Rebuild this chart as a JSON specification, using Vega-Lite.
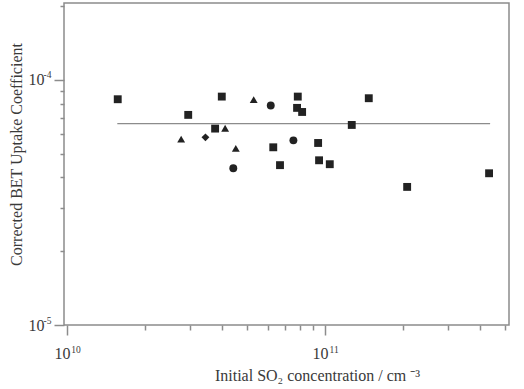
{
  "$schema": "https://vega.github.io/schema/vega-lite/v6.json",
  "width": 445,
  "height": 322,
  "autosize": {"type": "none"},
  "padding": {"left": 64, "top": 3, "right": 15, "bottom": 64},
  "background": "white",
  "config": {
    "view": {"stroke": "#8c8c8c", "strokeWidth": 1.5},
    "axis": {
      "labelFont": "Liberation Serif",
      "titleFont": "Liberation Serif",
      "labelColor": "#3a3a3a",
      "titleColor": "#3a3a3a",
      "titleFontWeight": "normal",
      "tickColor": "#8c8c8c",
      "tickWidth": 1.5,
      "domain": false,
      "grid": false,
      "labelOverlap": false,
      "labelFlush": false
    }
  },
  "resolve": {"axis": {"x": "independent", "y": "independent"}},
  "layer": [
    {
      "data": {"values": [
        {"conc": 1.567e10, "gamma": 6.63e-5},
        {"conc": 4.36e11, "gamma": 6.63e-5}
      ]},
      "mark": {"type": "line", "color": "#8c8c8c", "strokeWidth": 1.3},
      "encoding": {
        "x": {
          "field": "conc",
          "type": "quantitative",
          "scale": {"type": "log", "domain": [9.74e9, 5.16e11], "nice": false},
          "axis": {
            "orient": "bottom",
            "values": [1e10, 1e11],
            "labelExpr": "datum.value == 1e10 ? '10' : (datum.value == 1e11 ? '11' : '')",
            "ticks": false,
            "tickSize": 0,
            "labelFontSize": 9.5,
            "labelPadding": 19,
            "labelOffset": 8.5,
            "title": null
          }
        },
        "y": {
          "field": "gamma",
          "type": "quantitative",
          "scale": {"type": "log", "domain": [1e-5, 2.06e-4], "nice": false},
          "axis": {
            "orient": "left",
            "values": [1e-5, 1e-4],
            "labelExpr": "datum.value == 1e-4 ? '-4' : (datum.value == 1e-5 ? '-5' : '')",
            "ticks": false,
            "tickSize": 0,
            "labelFontSize": 9.5,
            "labelPadding": 13,
            "labelOffset": -5,
            "title": null
          }
        }
      }
    },
    {
      "data": {"values": [
        {"conc": 1.573e10, "gamma": 8.34e-5, "type": "square"},
        {"conc": 3.98e10, "gamma": 8.55e-5, "type": "square"},
        {"conc": 2.95e10, "gamma": 7.20e-5, "type": "square"},
        {"conc": 3.75e10, "gamma": 6.33e-5, "type": "square"},
        {"conc": 7.84e10, "gamma": 8.55e-5, "type": "square"},
        {"conc": 7.79e10, "gamma": 7.69e-5, "type": "square"},
        {"conc": 8.15e10, "gamma": 7.40e-5, "type": "square"},
        {"conc": 6.30e10, "gamma": 5.31e-5, "type": "square"},
        {"conc": 6.69e10, "gamma": 4.49e-5, "type": "square"},
        {"conc": 9.40e10, "gamma": 5.53e-5, "type": "square"},
        {"conc": 9.48e10, "gamma": 4.70e-5, "type": "square"},
        {"conc": 1.043e11, "gamma": 4.53e-5, "type": "square"},
        {"conc": 1.269e11, "gamma": 6.55e-5, "type": "square"},
        {"conc": 1.477e11, "gamma": 8.42e-5, "type": "square"},
        {"conc": 2.08e11, "gamma": 3.66e-5, "type": "square"},
        {"conc": 4.32e11, "gamma": 4.16e-5, "type": "square"},
        {"conc": 5.29e10, "gamma": 8.31e-5, "type": "triangle"},
        {"conc": 2.77e10, "gamma": 5.73e-5, "type": "triangle"},
        {"conc": 4.10e10, "gamma": 6.35e-5, "type": "triangle"},
        {"conc": 4.51e10, "gamma": 5.26e-5, "type": "triangle"},
        {"conc": 6.16e10, "gamma": 7.86e-5, "type": "circle"},
        {"conc": 7.54e10, "gamma": 5.67e-5, "type": "circle"},
        {"conc": 4.41e10, "gamma": 4.36e-5, "type": "circle"},
        {"conc": 3.44e10, "gamma": 5.83e-5, "type": "diamond"}
      ]},
      "mark": {"type": "point", "filled": true, "opacity": 1, "color": "#222222", "size": 62},
      "encoding": {
        "x": {
          "field": "conc",
          "type": "quantitative",
          "scale": {"type": "log", "domain": [9.74e9, 5.16e11], "nice": false},
          "axis": {
            "orient": "bottom",
            "values": [1e10, 2e10, 3e10, 4e10, 5e10, 6e10, 7e10, 8e10, 9e10, 1e11, 2e11, 3e11, 4e11, 5e11],
            "labelExpr": "datum.value == 1e10 || datum.value == 1e11 ? '10' : ''",
            "tickSize": {"condition": {"test": "datum.value == 1e10 || datum.value == 1e11", "value": 10}, "value": 5},
            "labelFontSize": 16,
            "labelPadding": 10,
            "labelOffset": -5,
            "title": "Initial SO₂ concentration / cm ⁻³",
            "titleFontSize": 16,
            "titlePadding": 6,
            "titleX": 253
          }
        },
        "y": {
          "field": "gamma",
          "type": "quantitative",
          "scale": {"type": "log", "domain": [1e-5, 2.06e-4], "nice": false},
          "axis": {
            "orient": "left",
            "values": [1e-5, 2e-5, 3e-5, 4e-5, 5e-5, 6e-5, 7e-5, 8e-5, 9e-5, 1e-4, 2e-4],
            "labelExpr": "datum.value == 1e-4 || datum.value == 1e-5 ? '10' : ''",
            "tickSize": {"condition": {"test": "datum.value == 1e-4 || datum.value == 1e-5", "value": 10}, "value": 4},
            "labelFontSize": 16,
            "labelPadding": 10,
            "title": "Corrected BET Uptake Coefficient",
            "titleFontSize": 16,
            "titlePadding": 4,
            "titleY": 151
          }
        },
        "shape": {
          "field": "type",
          "type": "nominal",
          "scale": {"domain": ["square", "triangle", "circle", "diamond"], "range": ["square", "triangle-up", "circle", "diamond"]},
          "legend": null
        }
      }
    }
  ]
}
